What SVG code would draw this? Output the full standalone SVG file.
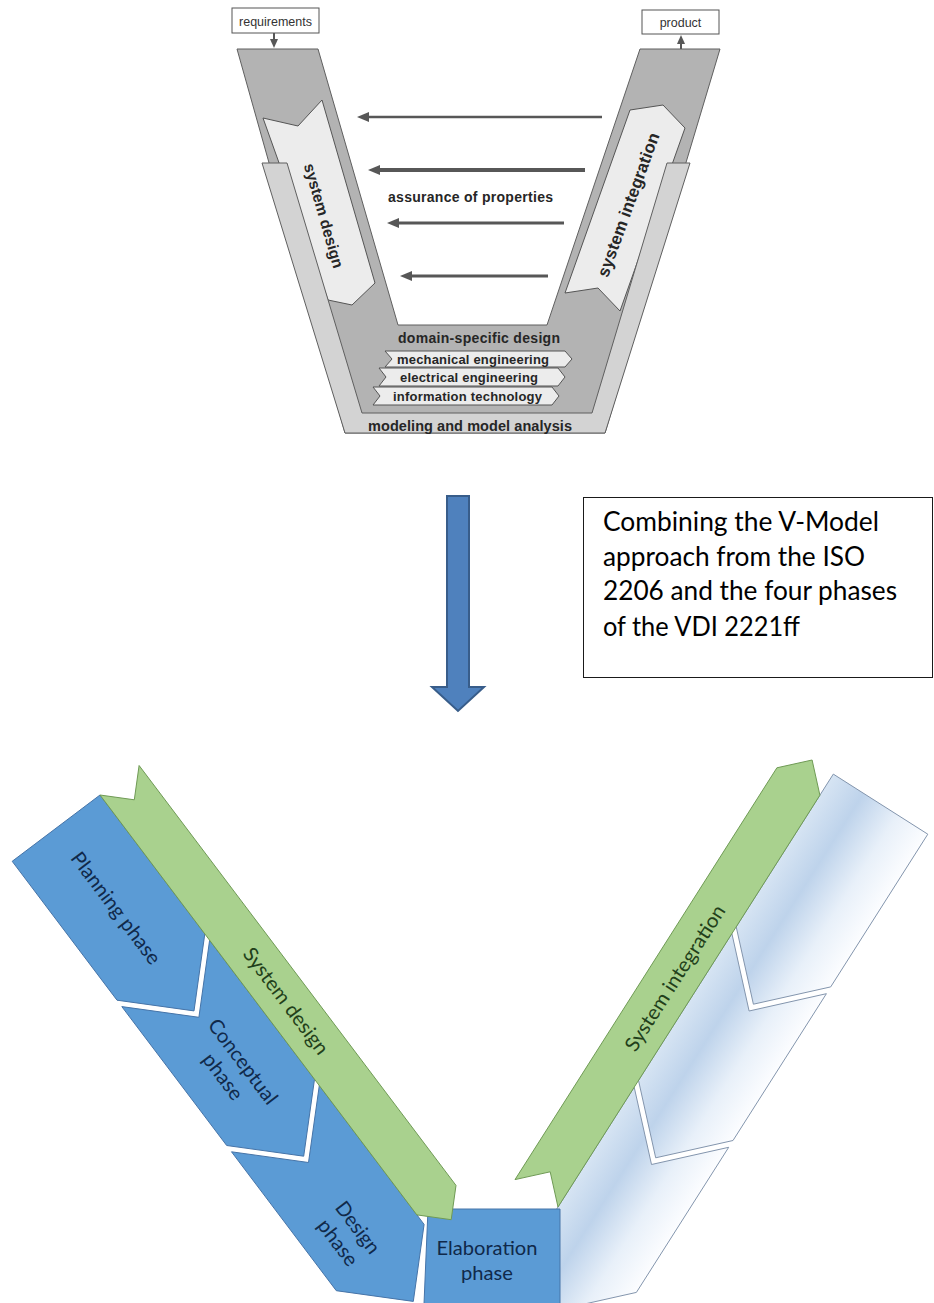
<svg xmlns="http://www.w3.org/2000/svg" width="934" height="1303" viewBox="0 0 934 1303">
<defs>
  <style>
    .band-dark { fill:#b3b3b3; stroke:#5f5f5f; stroke-width:1; }
    .band-light { fill:#d3d3d3; stroke:#5f5f5f; stroke-width:1; }
    .pale { fill:#ececec; stroke:#555; stroke-width:1; }
    .vlbl { font-family:"Liberation Sans", Arial, sans-serif; font-weight:bold; fill:#262626; text-anchor:middle; }
    .io { fill:#fff; stroke:#555; stroke-width:1; }
    .iotxt { font-family:"Liberation Sans", Arial, sans-serif; font-size:12.5px; fill:#333; text-anchor:middle; }
    .flow { stroke:#575757; fill:none; }
    .blue { fill:#5b9bd5; stroke:#4674a8; stroke-width:1; }
    .green { fill:#a9d18e; stroke:#6f9a55; stroke-width:1; }
    .light { fill:url(#lightGrad); stroke:#8395ad; stroke-width:1; }
    .ph { font-family:Lato, "Open Sans", sans-serif; font-size:20px; fill:#10294a; text-anchor:middle; }
    .gt { font-family:Lato, "Open Sans", sans-serif; font-size:20px; fill:#22401a; text-anchor:middle; }
    .note { font-family:Lato, "Open Sans", sans-serif; font-size:26px; fill:#000; }
  </style>
  <marker id="ah" markerUnits="userSpaceOnUse" markerWidth="12" markerHeight="10" refX="1" refY="5" orient="auto">
    <path d="M0,0 L12,5 L0,10 z" fill="#575757"/>
  </marker>
  <marker id="ahs" markerUnits="userSpaceOnUse" markerWidth="9" markerHeight="8" refX="1" refY="4" orient="auto">
    <path d="M0,0 L9,4 L0,8 z" fill="#575757"/>
  </marker>
  <!-- shading across the width of the right-hand arm -->
  <linearGradient id="lightGrad" gradientUnits="userSpaceOnUse" x1="558" y1="1207" x2="652.5" y2="1267.1">
    <stop offset="0" stop-color="#d6e4f3"/>
    <stop offset="0.32" stop-color="#bed3eb"/>
    <stop offset="0.68" stop-color="#e8f0f9"/>
    <stop offset="1" stop-color="#fcfdff"/>
  </linearGradient>
</defs>

<rect width="934" height="1303" fill="#fff"/>

<!-- ===== upper V-model ===== -->
<g id="requirements">
  <rect class="io" x="232" y="8" width="87" height="25"/>
  <text class="iotxt" x="275.5" y="25.5">requirements</text>
</g>
<g id="product">
  <rect class="io" x="642" y="10" width="77" height="24"/>
  <text class="iotxt" x="680.5" y="26.5">product</text>
</g>

<g id="v-core">
  <polygon class="band-dark" points="237,49 318,49 398,325 547,325 640,49 720,49 605,433 345,433"/>
</g>
<g id="system-design">
  <polygon class="pale" points="263,118 298,126 322,100 375,283 352,305 328,300"/>
</g>
<g id="system-integration">
  <polygon class="pale" points="630,110 663,105 685,128 620,311 598,288 565,293"/>
</g>
<g id="modeling-band">
  <polygon class="band-light" points="262,163 345,433 605,433 690,163 667,163 592,413 362,413 287,163"/>
  <text class="vlbl" font-size="14.5" x="470" y="430.5" textLength="204">modeling and model analysis</text>
</g>
<g id="domain-design">
  <text class="vlbl" font-size="14" x="479" y="343" textLength="162">domain-specific design</text>
</g>
<g id="mechanical">
  <polygon class="pale" points="385,351 565,351 572,359 565,367 385,367 392,359"/>
  <text class="vlbl" font-size="13" x="473" y="363.5" textLength="152">mechanical engineering</text>
</g>
<g id="electrical">
  <polygon class="pale" points="379,368 558,368 565,377 558,386 379,386 386,377"/>
  <text class="vlbl" font-size="13" x="469" y="381.5" textLength="138">electrical engineering</text>
</g>
<g id="information">
  <polygon class="pale" points="373,387 552,387 559,396 552,405 373,405 380,396"/>
  <text class="vlbl" font-size="13" x="467.5" y="400.5" textLength="149">information technology</text>
</g>
<g id="v-labels">
  <text class="vlbl" font-size="15.5" transform="translate(323,216) rotate(74)" x="0" y="4.5" textLength="108">system design</text>
  <text class="vlbl" font-size="17" transform="translate(629,205) rotate(-70)" x="0" y="5" textLength="152">system integration</text>
  <text class="vlbl" font-size="14" x="470.5" y="201.5" textLength="165">assurance of properties</text>
</g>

<!-- ===== connectors ===== -->
<g id="connectors">
  <line class="flow" x1="274" y1="33" x2="274" y2="40" stroke-width="2" marker-end="url(#ahs)"/>
  <line class="flow" x1="681" y1="49" x2="681" y2="43" stroke-width="2" marker-end="url(#ahs)"/>
  <line class="flow" x1="602" y1="117" x2="368" y2="117" stroke-width="2.6" marker-end="url(#ah)"/>
  <line class="flow" x1="585" y1="170" x2="379" y2="170" stroke-width="4" marker-end="url(#ah)"/>
  <line class="flow" x1="564" y1="223" x2="398" y2="223" stroke-width="2.8" marker-end="url(#ah)"/>
  <line class="flow" x1="548" y1="276" x2="411" y2="276" stroke-width="2.8" marker-end="url(#ah)"/>
  <polygon id="transition-arrow" points="447,496 469,496 469,687 484,687 458,711 432,687 447,687" fill="#4f81bd" stroke="#385d8a" stroke-width="2" stroke-linejoin="miter"/>
</g>

<!-- ===== note ===== -->
<g id="note">
  <rect x="583.5" y="497.5" width="349" height="180" fill="#fff" stroke="#1a1a1a" stroke-width="1"/>
  <text class="note" x="603" y="531" textLength="276" lengthAdjust="spacingAndGlyphs">Combining the V-Model</text>
  <text class="note" x="603" y="566" textLength="262" lengthAdjust="spacingAndGlyphs">approach from the ISO</text>
  <text class="note" x="603" y="600" textLength="294" lengthAdjust="spacingAndGlyphs">2206 and the four phases</text>
  <text class="note" x="603" y="636" textLength="197" lengthAdjust="spacingAndGlyphs">of the VDI 2221ff</text>
</g>

<!-- ===== combined model ===== -->
<g id="integration-stage-3">
  <polygon class="light" points="634.2,1087.2 651.5,1164.5 728.7,1147.3 636.4,1292.4 559.1,1309.7 541.9,1232.3"/>
</g>
<g id="integration-stage-2">
  <polygon class="light" points="731.9,933.6 749.1,1011.0 826.4,993.7 733.0,1140.5 655.7,1157.8 638.5,1080.4"/>
</g>
<g id="integration-stage-1">
  <polygon class="light" points="833.3,774.1 927.8,834.2 830.7,986.9 753.4,1004.2 736.2,926.8"/>
</g>

<g id="planning-phase">
  <polygon class="blue" points="100,795 12.2,861.3 117.0,1000.2 194.0,1010.9 204.8,933.9"/>
  <text class="ph" transform="translate(116,908) rotate(53)" y="7" textLength="135" lengthAdjust="spacingAndGlyphs">Planning phase</text>
</g>
<g id="conceptual-phase">
  <polygon class="blue" points="209.6,940.3 198.9,1017.3 121.8,1006.6 226.7,1145.5 303.7,1156.2 314.5,1079.2"/>
  <text class="ph" transform="translate(233,1069) rotate(53)" y="-5.5" textLength="101" lengthAdjust="spacingAndGlyphs">Conceptual</text>
  <text class="ph" transform="translate(233,1069) rotate(53)" y="19.5" textLength="53" lengthAdjust="spacingAndGlyphs">phase</text>
</g>
<g id="design-phase">
  <polygon class="blue" points="319.3,1085.5 308.5,1162.5 231.5,1151.8 336.3,1290.7 413.3,1301.4 424.1,1224.4"/>
  <text class="ph" transform="translate(348,1235) rotate(53)" y="-5.5" textLength="60" lengthAdjust="spacingAndGlyphs">Design</text>
  <text class="ph" transform="translate(348,1235) rotate(53)" y="19.5" textLength="53" lengthAdjust="spacingAndGlyphs">phase</text>
</g>

<g id="elaboration-phase">
  <polygon class="blue" points="428,1209 560,1209 560,1304 424,1304"/>
  <text class="ph" x="487" y="1255" textLength="101" lengthAdjust="spacingAndGlyphs">Elaboration</text>
  <text class="ph" x="487" y="1280" textLength="52" lengthAdjust="spacingAndGlyphs">phase</text>
</g>

<g id="system-design-arrow">
  <polygon class="green" points="100,795 134.3,799.8 139.1,765.5 456.0,1185.4 451.2,1219.7 416.9,1214.9"/>
  <text class="gt" transform="translate(286,1001) rotate(53)" y="7" textLength="128" lengthAdjust="spacingAndGlyphs">System design</text>
</g>
<g id="system-integration-arrow">
  <polygon class="green" points="515,1179.6 550.2,1171.8 558,1207 819.9,795.2 812.1,760.0 776.9,767.8"/>
  <text class="gt" transform="translate(675,978) rotate(-57.5)" y="7" textLength="169" lengthAdjust="spacingAndGlyphs">System integration</text>
</g>
</svg>
